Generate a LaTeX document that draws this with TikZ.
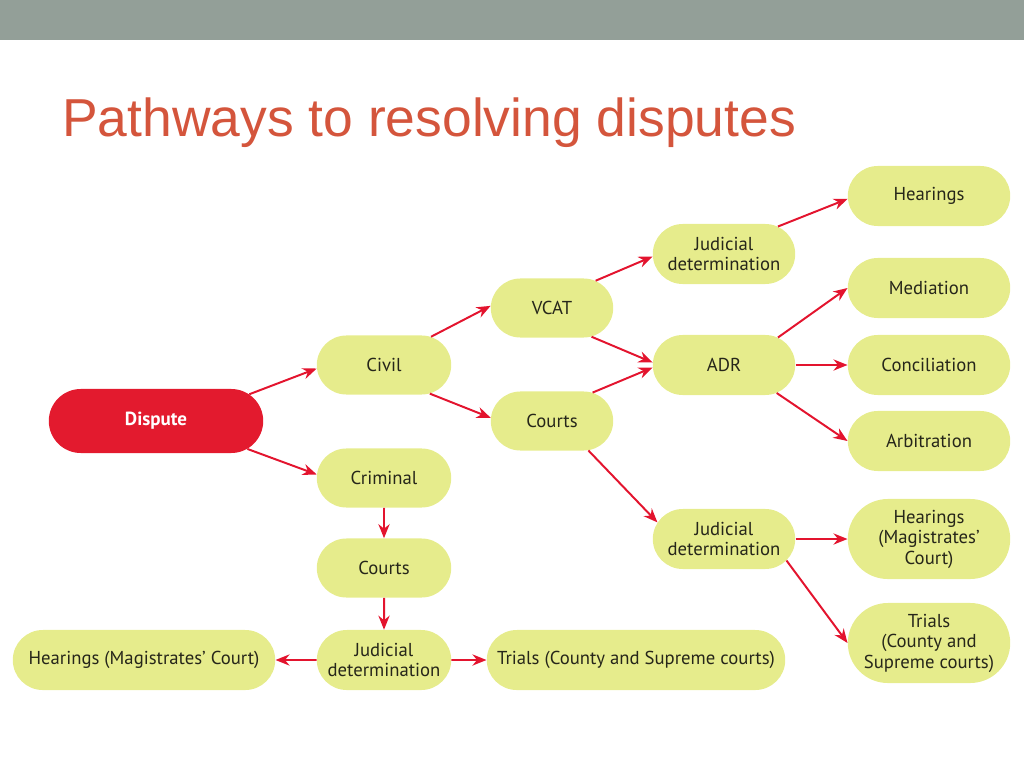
\documentclass[tikz,border=0pt]{standalone}
\usepackage{fontspec}
\setmainfont{PT Sans}
\newfontfamily\titlefont{Liberation Sans}
\usepackage{xcolor}
\usepackage{tikz}
\usetikzlibrary{arrows.meta, shapes.misc}
\definecolor{boxfill}{HTML}{E6EC8C}
\definecolor{disred}{HTML}{E31A2E}
\definecolor{arrred}{HTML}{E3142E}
\definecolor{bargray}{HTML}{939F98}
\definecolor{titlered}{HTML}{D4553C}
\definecolor{boxtext}{HTML}{26261A}

\begin{document}
\begin{tikzpicture}[x=0.025cm, y=-0.025cm,
    box/.style={rounded rectangle, fill=boxfill, align=center, font=\fontsize{13.3}{14.6}\selectfont, text=boxtext, inner sep=2pt, minimum height=1.475cm},
    arrow/.style={-{Stealth[length=10pt, width=8pt]}, line width=1.4pt, draw=arrred}
]
\useasboundingbox (0,0) rectangle (1024,768);
% Header
\fill[bargray] (0,0) rectangle (1024,40);
\node[anchor=base west, inner sep=0pt, text=titlered, font=\titlefont\fontsize{38}{40}\selectfont] (title) at (62,137) {Pathways to resolving disputes};
% Start and first split
\node[box, fill=disred, text=white, font=\fontsize{13.5}{15}\selectfont\bfseries, minimum width=5.5cm, minimum height=1.6cm] (dispute) at (156,421) {Dispute};
\node[box, minimum width=3.5cm] (civil) at (384,365) {Civil};
\node[box, minimum width=3.5cm] (criminal) at (384,478) {Criminal};
% Civil pathway
\node[box, minimum width=3.2cm] (vcat) at (552,308) {VCAT};
\node[box, minimum width=3.2cm] (ccourts) at (552,421) {Courts};
\node[box, minimum width=3.7cm, minimum height=1.5cm] (jdvcat) at (724,254) {Judicial\\determination};
\node[box, minimum width=3.7cm, minimum height=1.5cm] (adr) at (724,365) {ADR};
\node[box, minimum width=3.7cm, minimum height=1.5cm] (jdcourts) at (724,539) {Judicial\\determination};
\node[box, minimum width=4.2cm, minimum height=1.5cm] (hear) at (929,196) {Hearings};
\node[box, minimum width=4.2cm, minimum height=1.5cm] (med) at (929,288) {Mediation};
\node[box, minimum width=4.2cm, minimum height=1.5cm] (conc) at (929,365) {Conciliation};
\node[box, minimum width=4.2cm, minimum height=1.5cm] (arb) at (929,441) {Arbitration};
\node[box, minimum width=4.2cm, minimum height=2cm] (hearmc) at (929,539) {Hearings\\(Magistrates’\\Court)};
\node[box, minimum width=4.2cm, minimum height=2cm] (trialsr) at (929,643) {Trials\\(County and\\Supreme courts)};
% Criminal pathway
\node[box, minimum width=3.5cm] (crcourts) at (384,568) {Courts};
\node[box, minimum width=3.5cm, minimum height=1.5cm] (crjd) at (384,660) {Judicial\\determination};
\node[box, minimum width=6.7cm, minimum height=1.5cm] (crhear) at (144,660) {Hearings (Magistrates’ Court)};
\node[box, minimum width=7.6cm, minimum height=1.5cm] (crtrials) at (636,660) {Trials (County and Supreme courts)};
% Arrows
\draw[arrow] (dispute.16) -- (civil.183);
\draw[arrow] (dispute.-17) -- (criminal.177);
\draw[arrow] (civil.31) -- (vcat.178);
\draw[arrow] (civil.-32) -- (ccourts.177);
\draw[arrow] (vcat.32) -- (jdvcat.182);
\draw[arrow] (vcat.-36) -- (adr.178);
\draw[arrow] (ccourts.35) -- (adr.182);
\draw[arrow] (ccourts.-39) -- (jdcourts.166);
\draw[arrow] (jdvcat.27) -- (hear.182);
\draw[arrow] (adr.27) -- (med.west);
\draw[arrow] (adr.east) -- (conc.west);
\draw[arrow] (adr.-28) -- (arb.west);
\draw[arrow] (jdcourts.east) -- (hearmc.west);
\draw[arrow] (jdcourts.-19) -- (trialsr.west);
\draw[arrow] (criminal) -- (crcourts);
\draw[arrow] (crcourts) -- (crjd);
\draw[arrow] (crjd) -- (crhear);
\draw[arrow] (crjd) -- (crtrials);
\end{tikzpicture}
\end{document}
